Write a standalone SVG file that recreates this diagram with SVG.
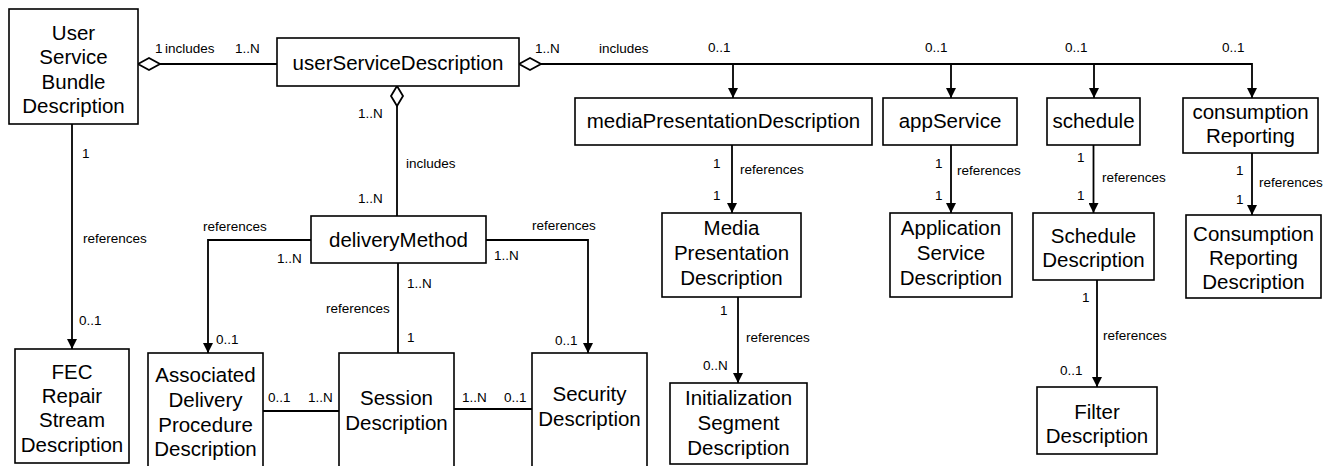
<svg xmlns="http://www.w3.org/2000/svg" width="1331" height="466" viewBox="0 0 1331 466">
<style>
.box{fill:#fff;stroke:#000;stroke-width:1.6}
.t{font-family:"Liberation Sans",Arial,sans-serif;font-size:20.5px;fill:#000;text-anchor:middle}
.l{font-family:"Liberation Sans",Arial,sans-serif;font-size:13.5px;fill:#000}
.c{fill:none;stroke:#000;stroke-width:1.8}
.d{fill:#fff;stroke:#000;stroke-width:1.8}
</style>
<defs>
<marker id="arr" markerWidth="10" markerHeight="10" refX="10" refY="5" orient="auto" markerUnits="userSpaceOnUse"><path d="M0,0 L10,5 L0,10 z" fill="#000"/></marker>
</defs>
<rect width="1331" height="466" fill="#fff"/>
<g id="connectors">
<path class="c" d="M160,64 H277"/>
<path class="c" d="M541,64 H1252 V98" marker-end="url(#arr)"/>
<path class="c" d="M733,64 V98" marker-end="url(#arr)"/>
<path class="c" d="M951,64 V98" marker-end="url(#arr)"/>
<path class="c" d="M1094,64 V98" marker-end="url(#arr)"/>
<path class="c" d="M397,106 V216"/>
<path class="c" d="M72,124 V349" marker-end="url(#arr)"/>
<path class="c" d="M311,240 H208 V353" marker-end="url(#arr)"/>
<path class="c" d="M486,240 H588 V353" marker-end="url(#arr)"/>
<path class="c" d="M398,263 V353"/>
<path class="c" d="M263,411 H339"/>
<path class="c" d="M454,409 H532"/>
<path class="c" d="M732,145 V213" marker-end="url(#arr)"/>
<path class="c" d="M738,297 V383" marker-end="url(#arr)"/>
<path class="c" d="M951,145 V213" marker-end="url(#arr)"/>
<path class="c" d="M1093.5,145 V213" marker-end="url(#arr)"/>
<path class="c" d="M1097,280 V387" marker-end="url(#arr)"/>
<path class="c" d="M1252,153 V215" marker-end="url(#arr)"/>
<path class="d" d="M138,64 L149,58 L160,64 L149,70 Z"/>
<path class="d" d="M519,64 L530,58 L541,64 L530,70 Z"/>
<path class="d" d="M397,86 L403,96 L397,106 L391,96 Z"/>
<text class="l" x="155" y="53">1</text>
<text class="l" x="165" y="53">includes</text>
<text class="l" x="235" y="53">1..N</text>
<text class="l" x="535" y="53">1..N</text>
<text class="l" x="599" y="53">includes</text>
<text class="l" x="708" y="52">0..1</text>
<text class="l" x="925" y="52">0..1</text>
<text class="l" x="1065" y="52">0..1</text>
<text class="l" x="1222" y="52">0..1</text>
<text class="l" x="358" y="118">1..N</text>
<text class="l" x="406" y="168">includes</text>
<text class="l" x="358" y="203">1..N</text>
<text class="l" x="82" y="158">1</text>
<text class="l" x="83" y="243">references</text>
<text class="l" x="79" y="325">0..1</text>
<text class="l" x="203" y="231">references</text>
<text class="l" x="277" y="263">1..N</text>
<text class="l" x="216" y="344">0..1</text>
<text class="l" x="532" y="230">references</text>
<text class="l" x="494" y="260">1..N</text>
<text class="l" x="555" y="345">0..1</text>
<text class="l" x="407" y="288">1..N</text>
<text class="l" x="326" y="312.5">references</text>
<text class="l" x="407" y="342">1</text>
<text class="l" x="268" y="402">0..1</text>
<text class="l" x="308" y="402">1..N</text>
<text class="l" x="462" y="402">1..N</text>
<text class="l" x="504" y="402">0..1</text>
<text class="l" x="713" y="168">1</text>
<text class="l" x="740" y="174">references</text>
<text class="l" x="713" y="200">1</text>
<text class="l" x="720" y="315">1</text>
<text class="l" x="746" y="342">references</text>
<text class="l" x="703" y="370">0..N</text>
<text class="l" x="935" y="168">1</text>
<text class="l" x="957" y="175">references</text>
<text class="l" x="935" y="200">1</text>
<text class="l" x="1077" y="162">1</text>
<text class="l" x="1102" y="182">references</text>
<text class="l" x="1077" y="200">1</text>
<text class="l" x="1082" y="302">1</text>
<text class="l" x="1103" y="340">references</text>
<text class="l" x="1060" y="375">0..1</text>
<text class="l" x="1236" y="175">1</text>
<text class="l" x="1259" y="187">references</text>
<text class="l" x="1236" y="204">1</text>
</g>
<g id="usbd"><rect class="box" x="9" y="9" width="129" height="115"/>
<text class="t" x="73.5" y="39.5">User</text><text class="t" x="73.5" y="64">Service</text><text class="t" x="73.5" y="88.5">Bundle</text><text class="t" x="73.5" y="113">Description</text></g>
<g id="usd"><rect class="box" x="277" y="38" width="242" height="48"/>
<text class="t" x="398" y="69.5">userServiceDescription</text></g>
<g id="mpd"><rect class="box" x="575" y="98" width="297" height="47"/>
<text class="t" x="723.5" y="128">mediaPresentationDescription</text></g>
<g id="appService"><rect class="box" x="883" y="98" width="134" height="47"/>
<text class="t" x="950" y="128">appService</text></g>
<g id="schedule"><rect class="box" x="1047" y="98" width="93" height="47"/>
<text class="t" x="1093.5" y="128">schedule</text></g>
<g id="consumptionReporting"><rect class="box" x="1183" y="98" width="135" height="55"/>
<text class="t" x="1250.5" y="119">consumption</text><text class="t" x="1250.5" y="143">Reporting</text></g>
<g id="deliveryMethod"><rect class="box" x="311" y="216" width="175" height="47"/>
<text class="t" x="398.5" y="247">deliveryMethod</text></g>
<g id="mediaPresDesc"><rect class="box" x="662" y="213" width="139" height="84"/>
<text class="t" x="731.5" y="235">Media</text><text class="t" x="731.5" y="260">Presentation</text><text class="t" x="731.5" y="285">Description</text></g>
<g id="initSeg"><rect class="box" x="670" y="383" width="137" height="81"/>
<text class="t" x="738.5" y="404.5">Initialization</text><text class="t" x="738.5" y="429.5">Segment</text><text class="t" x="738.5" y="454.5">Description</text></g>
<g id="appServiceDesc"><rect class="box" x="890" y="213" width="122" height="84"/>
<text class="t" x="951" y="235">Application</text><text class="t" x="951" y="260">Service</text><text class="t" x="951" y="285">Description</text></g>
<g id="scheduleDesc"><rect class="box" x="1033" y="213" width="121" height="67"/>
<text class="t" x="1093.5" y="243">Schedule</text><text class="t" x="1093.5" y="267">Description</text></g>
<g id="consumptionDesc"><rect class="box" x="1186" y="215" width="135" height="83"/>
<text class="t" x="1253.5" y="241">Consumption</text><text class="t" x="1253.5" y="265">Reporting</text><text class="t" x="1253.5" y="289">Description</text></g>
<g id="filterDesc"><rect class="box" x="1037" y="387" width="120" height="67"/>
<text class="t" x="1097" y="419">Filter</text><text class="t" x="1097" y="442.5">Description</text></g>
<g id="fecDesc"><rect class="box" x="15" y="349" width="114" height="114"/>
<text class="t" x="72" y="379">FEC</text><text class="t" x="72" y="403">Repair</text><text class="t" x="72" y="427">Stream</text><text class="t" x="72" y="451.5">Description</text></g>
<g id="adpd"><rect class="box" x="148" y="353" width="115" height="114"/>
<text class="t" x="205.5" y="382">Associated</text><text class="t" x="205.5" y="407">Delivery</text><text class="t" x="205.5" y="431.5">Procedure</text><text class="t" x="205.5" y="456">Description</text></g>
<g id="sessionDesc"><rect class="box" x="339" y="353" width="115" height="114"/>
<text class="t" x="396.5" y="404.5">Session</text><text class="t" x="396.5" y="429.5">Description</text></g>
<g id="securityDesc"><rect class="box" x="532" y="353" width="115" height="114"/>
<text class="t" x="589.5" y="401">Security</text><text class="t" x="589.5" y="426">Description</text></g>
</svg>
